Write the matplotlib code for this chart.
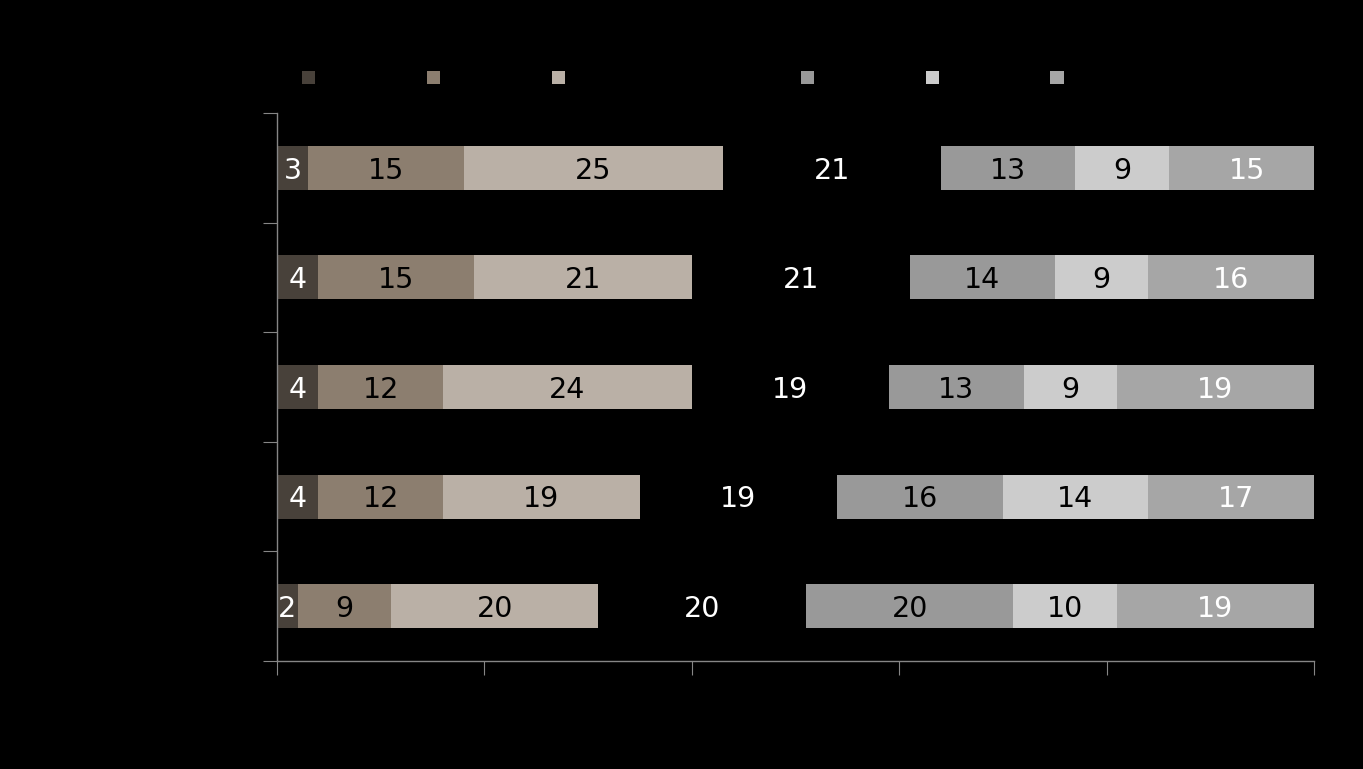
import numpy as np
import matplotlib
matplotlib.use("Agg")
import matplotlib.pyplot as plt
from matplotlib.patches import Patch

# categories from top to bottom (labels drawn in black, as in the reference)
categories = ["Group 1", "Group 2", "Group 3", "Group 4", "Group 5"]
series_names = ["S1", "S2", "S3", "S4", "S5", "S6", "S7"]

s1 = [3, 4, 4, 4, 2]
s2 = [15, 15, 12, 12, 9]
s3 = [25, 21, 24, 19, 20]
s4 = [21, 21, 19, 19, 20]
s5 = [13, 14, 13, 16, 20]
s6 = [9, 9, 9, 14, 10]
s7 = [15, 16, 19, 17, 19]

series = [s1, s2, s3, s4, s5, s6, s7]
colors = ["#48413a", "#8c7e6f", "#bab0a6", "#000000", "#999999", "#cccccc", "#a6a6a6"]
label_colors = ["white", "black", "black", "white", "black", "black", "white"]

fig = plt.figure(figsize=(13.63, 7.69), dpi=100, facecolor="black")
ax = fig.add_axes([277 / 1363, 1 - 661 / 769, 1037 / 1363, 548 / 769])
ax.set_facecolor("black")

y = np.arange(len(categories))
left = np.zeros(len(categories))
for vals, col, lc in zip(series, colors, label_colors):
    vals = np.array(vals, dtype=float)
    ax.barh(y, vals, left=left, height=0.4, color=col, linewidth=0)
    for yi, l, v in zip(y, left, vals):
        ax.text(l + v / 2, yi + 0.025, f"{v:.0f}", ha="center", va="center",
                color=lc, fontsize=20.5, family="DejaVu Sans")
    left += vals

ax.set_xlim(0, 100)
ax.set_ylim(len(categories) - 0.5, -0.5)

# ticks at group boundaries
ax.set_yticks(np.arange(len(categories) + 1) - 0.5)
ax.set_yticklabels([])
ax.set_yticks(y, minor=True)
ax.set_yticklabels(categories, minor=True, color="black")
ax.tick_params(axis="y", which="minor", length=0)
ax.tick_params(axis="y", which="major", length=10, color="#868686", direction="out")

ax.set_xticks(np.arange(0, 101, 20))
ax.set_xticklabels([f"{t}%" for t in range(0, 101, 20)], color="black")
ax.tick_params(axis="x", length=10, color="#868686", direction="out")

for side in ["top", "right"]:
    ax.spines[side].set_visible(False)
for side in ["left", "bottom"]:
    ax.spines[side].set_color("#868686")
    ax.spines[side].set_linewidth(1)

handles = [Patch(facecolor=c, edgecolor="none") for c in colors]
fig.legend(handles, series_names, loc="center left", ncol=7,
           bbox_to_anchor=(287 / 1363, 1 - 78 / 769),
           frameon=False, handlelength=0.8, handleheight=0.8,
           columnspacing=4.92, handletextpad=0.5, fontsize=12, labelcolor="black")

fig.savefig("out.png", dpi=100, facecolor="black")
